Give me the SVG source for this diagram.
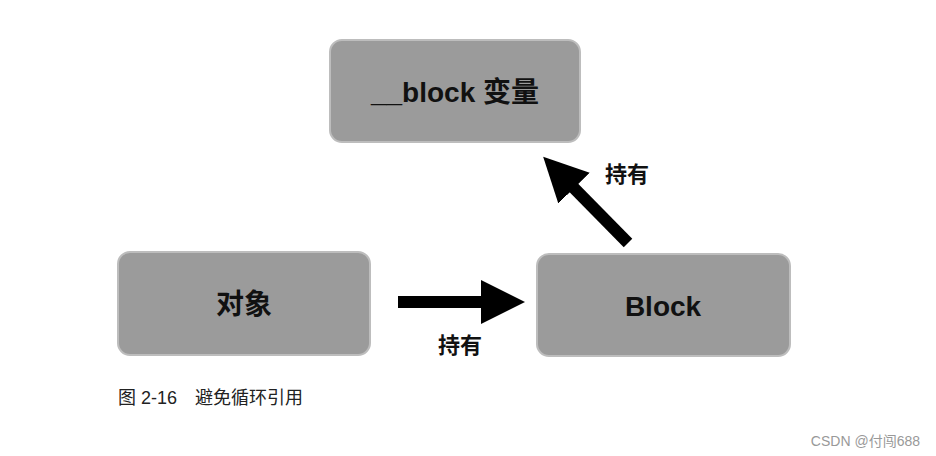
<svg xmlns="http://www.w3.org/2000/svg" width="936" height="456" viewBox="0 0 936 456">
<style>
.box{fill:#9b9b9b;stroke:#bdbdbd;stroke-width:2}
.t{font-family:"Liberation Sans","Noto Sans CJK SC",sans-serif;font-weight:bold;fill:#111;text-anchor:middle}
.ln{stroke:#000;stroke-width:12;fill:none}
</style>
<defs><marker id="ah" markerUnits="userSpaceOnUse" markerWidth="48" markerHeight="48" refX="10" refY="24" orient="auto" viewBox="0 0 48 48"><path d="M0,2 L44,24 L0,46 Z" fill="#000"/></marker></defs>
<rect width="936" height="456" fill="#fff"/>
<g id="var"><rect class="box" x="330" y="40" width="250" height="102" rx="12"/><text class="t" x="455" y="102" font-size="28">__block 变量</text></g>
<g id="obj"><rect class="box" x="118" y="252" width="252" height="103" rx="12"/><text class="t" x="244" y="314" font-size="28">对象</text></g>
<g id="block"><rect class="box" x="537" y="254" width="253" height="102" rx="12"/><text class="t" x="663" y="316" font-size="28">Block</text></g>
<g id="connectors">
<line class="ln" x1="398" y1="302" x2="491" y2="302" marker-end="url(#ah)"/>
<line class="ln" x1="628" y1="243" x2="567" y2="181" marker-end="url(#ah)"/>
<text class="t" x="460" y="353" font-size="22">持有</text>
<text class="t" x="627" y="182" font-size="22">持有</text>
</g>
<text x="118" y="404" font-family="Liberation Sans,Noto Sans CJK SC,sans-serif" font-size="18" fill="#222">图 2-16　避免循环引用</text>
<text x="920" y="446" text-anchor="end" font-family="Liberation Sans,Noto Sans CJK SC,sans-serif" font-size="14" fill="#999">CSDN @付闯688</text>
</svg>
